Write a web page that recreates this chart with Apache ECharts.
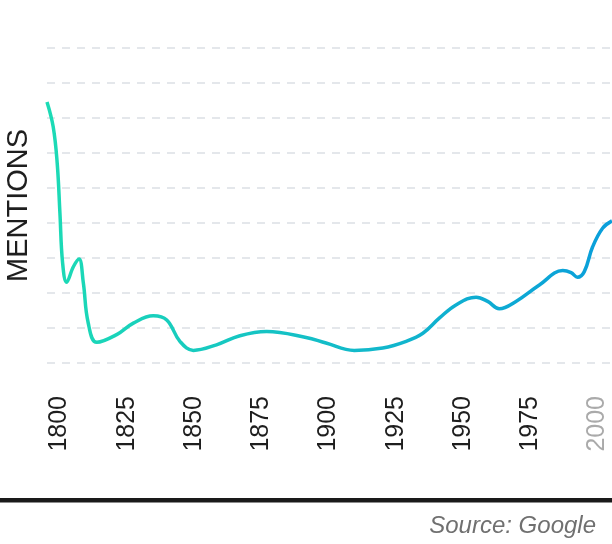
<!DOCTYPE html>
<html lang="en">

<head>
  <meta charset="UTF-8">
  <meta name="viewport" content="width=device-width, initial-scale=1.0">
  <title>Mentions</title>
  <script src="https://cdn.jsdelivr.net/npm/echarts@6/dist/echarts.min.js"></script>
</head>
<style>
  * {
    margin: 0px;
    padding: 0px;
  }

  #chart {
    width: 612px;
    height: 544px;
  }
</style>

<body>
  <div id="chart"></div>
</body>
<script>
  // y in gridline units
  var years = [1800, 1802.3, 1803.8, 1804.8, 1805.8, 1807.3, 1809.8, 1811.9, 1813.5, 1815.3, 1818.5,
    1825.9, 1832.1, 1839.5, 1844.5, 1849.4, 1854.4, 1863, 1871.7, 1881.6, 1896.3,
    1903.7, 1914.2, 1924.8, 1933.5, 1939.7, 1945.8, 1952, 1959.5, 1963.8, 1968.1,
    1974.3, 1983, 1991.7, 1994.8, 1997.2, 1999.7, 2002.8, 2006.5, 2010];
  var mentions = [7.46, 6.75, 5.70, 4.29, 2.86, 2.31, 2.75, 2.97, 2.29, 1.15, 0.59,
    0.81, 1.14, 1.35, 1.23, 0.62, 0.36, 0.52, 0.78, 0.90, 0.73,
    0.57, 0.36, 0.43, 0.62, 0.85, 1.28, 1.66, 1.88, 1.76, 1.55,
    1.76, 2.23, 2.64, 2.58, 2.45, 2.61, 3.32, 3.85, 4.06];
  var yearTicks = [1800, 1825, 1850, 1875, 1900, 1925, 1950, 1975, 2000];
  var yLabel = 'MENTIONS';
  var source = 'Source: Google';

  var points = years.map(function (y, i) {
    return [y, mentions[i]];
  });

  var chart = echarts.init(document.getElementById('chart'));
  chart.setOption({
    animation: false,
    textStyle: {
      fontFamily: 'Liberation Sans, Arial, sans-serif'
    },
    grid: {
      left: 47,
      right: 0,
      top: 48,
      bottom: 181,
      containLabel: false,
      outerBoundsMode: 'none'
    },
    xAxis: {
      type: 'value',
      min: 1800,
      max: 2010,
      interval: 25,
      axisLine: { show: false },
      axisTick: { show: false },
      splitLine: { show: false },
      axisLabel: {
        rotate: 90,
        margin: 33,
        fontSize: 25,
        verticalAlign: 'top',
        customValues: yearTicks,
        hideOverlap: false,
        formatter: function (v) { return String(v); },
        color: function (v) {
          return Number(v) === 2000 ? '#aaaaaa' : '#1e1e1e';
        }
      }
    },
    yAxis: {
      type: 'value',
      min: 0,
      max: 9,
      interval: 1,
      name: yLabel,
      nameLocation: 'middle',
      nameRotate: 90,
      nameGap: 14,
      nameTextStyle: {
        fontSize: 29,
        color: '#1e1e1e'
      },
      axisLine: { show: false },
      axisTick: { show: false },
      axisLabel: { show: false },
      splitLine: {
        lineStyle: {
          color: '#e4e7eb',
          width: 2,
          type: [8, 7]
        }
      }
    },
    series: [{
      type: 'line',
      data: points,
      smooth: 0.4,
      showSymbol: false,
      lineStyle: {
        width: 3.5,
        color: new echarts.graphic.LinearGradient(0, 0, 1, 0, [
          { offset: 0, color: '#1cdbb5' },
          { offset: 1, color: '#0a9edb' }
        ])
      }
    }],
    graphic: [{
      type: 'rect',
      left: 0,
      top: 498,
      shape: { width: 612, height: 4.5 },
      style: { fill: '#1a1a1a' }
    }, {
      type: 'text',
      right: 16,
      top: 514,
      style: {
        text: source,
        fontSize: 24,
        fontStyle: 'italic',
        fontFamily: 'Liberation Sans, Arial, sans-serif',
        fill: '#707070'
      }
    }]
  });
</script>

</html>
